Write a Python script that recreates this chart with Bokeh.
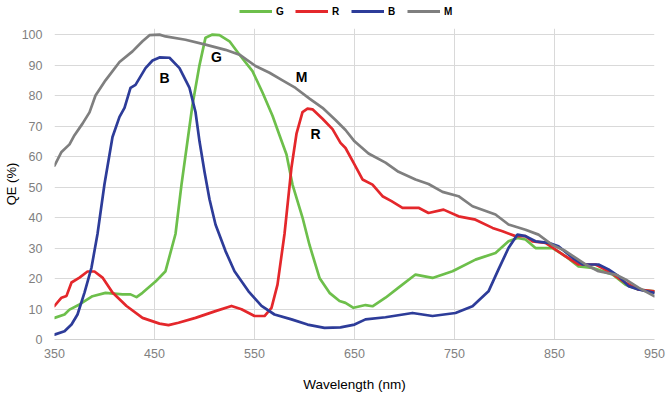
from bokeh.plotting import figure
from bokeh.layouts import column
from bokeh.models import FixedTicker, Legend, LegendItem, ColumnDataSource
from bokeh.core.properties import value
from bokeh.embed import file_html
from bokeh.resources import INLINE

# ---- data ----
wl_g = [350, 360, 365, 375, 388, 401, 418, 426, 432, 438, 451, 461, 471, 477, 484, 488, 495, 501, 508, 515,
        525, 535, 548, 558, 568, 575, 582, 588, 598, 605, 615, 625, 635, 641, 649, 661, 668, 681, 694, 711,
        728, 748, 771, 791, 804, 813, 821, 831, 848, 861, 874, 888, 908, 921, 934, 950]
qe_g = [7.1, 8.2, 9.8, 11.5, 14.2, 15.3, 14.8, 14.8, 13.9, 15.3, 19.0, 22.4, 34.6, 50.8, 67.5, 77.0, 90.0, 99.0, 100.0, 99.8,
        97.8, 93.4, 88.0, 81.0, 73.4, 67.0, 60.7, 50.8, 40.0, 31.0, 20.2, 15.3, 12.6, 12.0, 10.4, 11.3, 10.9, 13.7, 17.0, 21.3,
        20.2, 22.4, 26.2, 28.4, 32.2, 33.3, 32.8, 30.0, 30.0, 27.3, 24.0, 23.5, 21.3, 18.0, 16.4, 15.8]

wl_r = [350, 357, 362, 367, 375, 383, 390, 398, 408, 422, 438, 455, 464, 474, 491, 511, 527, 537, 550, 560,
        567, 573, 580, 587, 592, 598, 603, 608, 618, 628, 636, 641, 649, 658, 668, 678, 687, 698, 714, 724,
        739, 754, 771, 788, 798, 811, 821, 828, 841, 861, 874, 891, 904, 921, 934, 950]
qe_r = [11.0, 13.7, 14.3, 18.7, 20.3, 22.3, 22.3, 20.3, 15.4, 11.0, 7.1, 5.2, 4.7, 5.5, 7.1, 9.3, 11.0, 9.9, 7.7, 7.7,
        10.4, 18.0, 34.6, 56.5, 67.5, 74.6, 75.7, 75.5, 72.4, 69.0, 64.5, 62.8, 58.0, 52.5, 50.8, 47.0, 45.4, 43.2, 43.2, 41.5,
        42.6, 40.4, 39.3, 36.6, 35.5, 33.9, 33.9, 32.2, 31.7, 27.3, 24.6, 24.6, 22.4, 18.6, 16.4, 15.8]

wl_b = [350, 360, 367, 373, 380, 387, 393, 400, 408, 415, 420, 426, 431, 441, 448, 455, 465, 475, 485, 491,
        495, 500, 505, 511, 521, 530, 544, 557, 570, 587, 603, 620, 636, 650, 661, 681, 708, 728, 751, 768,
        784, 794, 804, 813, 821, 831, 844, 854, 868, 878, 894, 904, 914, 924, 934, 950]
qe_b = [1.6, 2.7, 4.9, 8.2, 15.4, 23.6, 34.6, 51.0, 66.4, 73.0, 76.0, 82.5, 83.5, 89.0, 91.5, 92.5, 92.4, 89.0, 82.5, 74.6,
        65.0, 55.0, 46.0, 37.7, 29.0, 22.4, 15.8, 11.0, 8.2, 6.6, 4.9, 3.8, 4.0, 4.9, 6.6, 7.3, 8.7, 7.7, 8.7, 10.9,
        15.8, 23.0, 30.0, 34.4, 33.9, 32.2, 31.7, 30.6, 26.8, 24.6, 24.6, 23.0, 20.8, 17.5, 16.4, 15.3]

wl_m = [350, 357, 365, 370, 378, 385, 391, 401, 415, 428, 438, 445, 455, 461, 481, 501, 521, 535, 551, 565,
        578, 591, 605, 618, 631, 641, 650, 664, 681, 694, 711, 724, 738, 754, 768, 791, 804, 821, 834, 848,
        861, 881, 894, 911, 921, 934, 950]
qe_m = [57.0, 61.5, 64.0, 67.0, 70.8, 74.5, 80.0, 85.0, 91.0, 94.5, 97.8, 99.8, 100.0, 99.4, 98.3, 96.7, 95.0, 93.4, 89.7, 87.5,
        85.0, 82.5, 79.0, 76.0, 72.0, 68.7, 65.0, 61.0, 58.0, 55.0, 52.5, 51.0, 48.4, 47.0, 43.7, 41.0, 37.7, 36.0, 34.4, 31.0,
        29.0, 24.6, 22.4, 21.3, 19.7, 17.0, 14.2]

series_names = ["G", "R", "B", "M"]
series_colors = ["#6dbf4b", "#e4272b", "#2d3c99", "#7f7f7f"]

label_text = ["B", "G", "M", "R"]
label_wl = [460, 512, 597, 611]
label_qe = [85.7, 92.6, 86.0, 67.5]

x_ticks = [350, 450, 550, 650, 750, 850, 950]
y_ticks = [0, 10, 20, 30, 40, 50, 60, 70, 80, 90, 100]

FONT = "Liberation Sans"
series = [(wl_g, qe_g), (wl_r, qe_r), (wl_b, qe_b), (wl_m, qe_m)]

# ---- main chart ----
p = figure(frame_width=600, frame_height=311, x_range=(350, 950), y_range=(0, 102),
           output_backend="svg", toolbar_location=None,
           min_border_left=52, min_border_right=19, min_border_top=0, min_border_bottom=58)
p.outline_line_color = None
p.background_fill_color = "white"
p.border_fill_color = "white"

p.xgrid.ticker = FixedTicker(ticks=x_ticks)
p.ygrid.ticker = FixedTicker(ticks=y_ticks)
p.xgrid.bounds = (0, 100)
for g in (p.xgrid, p.ygrid):
    g.grid_line_color = "#d9d9d9"
    g.grid_line_width = 1

p.xaxis.ticker = FixedTicker(ticks=x_ticks)
p.yaxis.ticker = FixedTicker(ticks=y_ticks)
for ax in (p.xaxis, p.yaxis):
    ax.major_tick_line_color = None
    ax.minor_tick_line_color = None
    ax.major_tick_out = 0
    ax.major_tick_in = 0
    ax.minor_tick_out = 0
    ax.major_label_text_color = "#808080"
    ax.major_label_text_font = FONT
    ax.major_label_text_font_size = "12.5px"
    ax.axis_label_text_font = FONT
    ax.axis_label_text_font_style = "normal"
    ax.axis_label_text_color = "black"
p.xaxis.axis_label_text_font_size = "13.5px"
p.yaxis.axis_label_text_font_size = "13px"
p.xaxis.axis_line_color = "#d0d0d0"
p.yaxis.axis_line_color = None
p.xaxis.axis_label = "Wavelength (nm)"
p.yaxis.axis_label = "QE (%)"
p.xaxis.major_label_standoff = 9
p.xaxis.axis_label_standoff = 16
p.yaxis.major_label_standoff = 12
p.yaxis.axis_label_standoff = 0

for (wl, qe), c in zip(series, series_colors):
    p.line(wl, qe, line_color=c, line_width=2.7, line_join="round", line_cap="round")

lab_src = ColumnDataSource(dict(x=label_wl, y=label_qe, t=label_text))
p.text(x="x", y="y", text="t", source=lab_src, text_font=value(FONT), text_font_style="bold",
       text_font_size="14px", text_color="black", text_align="center", text_baseline="middle")

# ---- legend strip above the chart (its lines lie outside its own view) ----
lf = figure(width=671, height=28, x_range=(0, 1), y_range=(0, 1),
            output_backend="svg", toolbar_location=None,
            min_border_left=0, min_border_right=0, min_border_top=0, min_border_bottom=0)
lf.axis.visible = False
lf.grid.visible = False
lf.outline_line_color = None
lf.background_fill_color = "white"
lf.border_fill_color = "white"
leg_renderers = [lf.line(wl, qe, line_color=c, line_width=3) for (wl, qe), c in zip(series, series_colors)]

legend = Legend(items=[LegendItem(label=n, renderers=[r]) for n, r in zip(series_names, leg_renderers)],
                orientation="horizontal", location=(185, 11), padding=0, margin=0,
                glyph_width=33, glyph_height=12, label_standoff=4, label_width=10, spacing=9,
                label_text_font=FONT, label_text_font_size="10px", label_text_font_style="bold",
                label_text_color="black", background_fill_alpha=0, border_line_color=None,
                label_height=12)
lf.add_layout(legend, "center")

layout = column(lf, p, spacing=0)
open("out.html", "w").write(file_html(layout, INLINE))
